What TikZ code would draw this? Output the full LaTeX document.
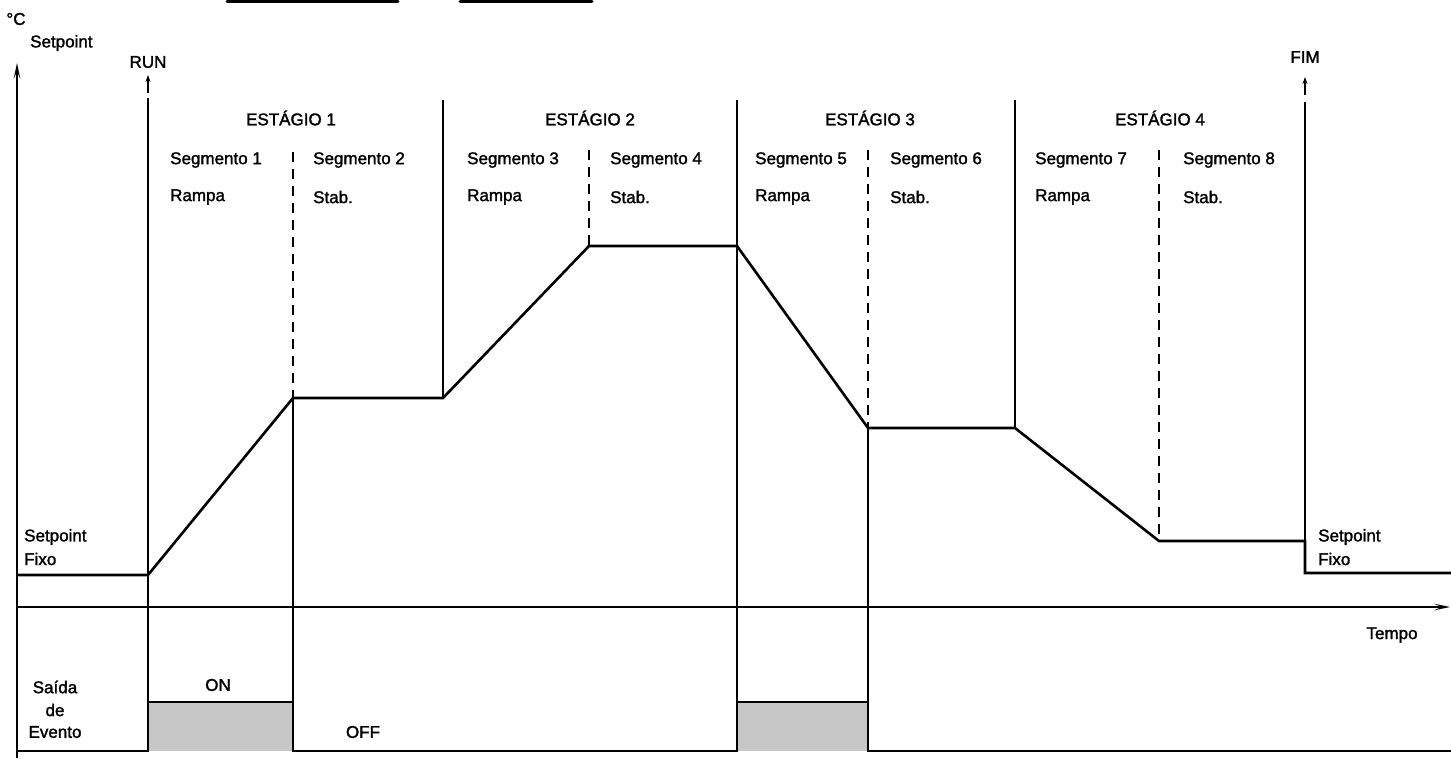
\documentclass[tikz,border=0pt]{standalone}
\usepackage{fontspec}
\setmainfont{Liberation Sans}
\newfontfamily\lblfont{Liberation Sans}[RawFeature={embolden=1.6}]
\usetikzlibrary{arrows.meta}
\begin{document}
\begin{tikzpicture}[x=1pt,y=-1pt,
  txt/.style={font=\lblfont\fontsize{17}{20}\selectfont, inner sep=0pt},
  axisline/.style={line width=2.4pt},
  profline/.style={line width=2.6pt, line join=miter},
  stageline/.style={line width=2pt},
  segline/.style={line width=1.7pt, dash pattern=on 10pt off 7pt},
  evline/.style={line width=2.6pt},
  evfill/.style={fill=black!22},
  marker/.style={line width=1.8pt, -{Stealth[length=7pt,width=5pt]}}
]
\useasboundingbox (0,0) rectangle (1451,758);

% partial rules along the upper edge
\draw[line width=3pt, line cap=round] (227,1.5) -- (398,1.5);
\draw[line width=3pt, line cap=round] (460,1.5) -- (592,1.5);

% setpoint profile corners
\coordinate (p0) at (17,575);
\coordinate (p1) at (148,575);
\coordinate (p2) at (293,398);
\coordinate (p3) at (443,398);
\coordinate (p4) at (589,246);
\coordinate (p5) at (737,246);
\coordinate (p6) at (868,428);
\coordinate (p7) at (1015,428);
\coordinate (p8) at (1159,541);
\coordinate (p9) at (1305,541);
\coordinate (p10) at (1305,573);
\coordinate (p11) at (1451,573);

% event output corners
\coordinate (e0) at (17,751);
\coordinate (e1) at (148,751);
\coordinate (e2) at (148,702);
\coordinate (e3) at (293,702);
\coordinate (e4) at (293,751);
\coordinate (e5) at (737,751);
\coordinate (e6) at (737,702);
\coordinate (e7) at (868,702);
\coordinate (e8) at (868,751);
\coordinate (e9) at (1451,751);

% shaded ON intervals
\fill[evfill] (e2) rectangle (e4);
\fill[evfill] (e6) rectangle (e8);

% axes
\coordinate (ybot) at (17,758);
\coordinate (ytop) at (17,62);
\coordinate (tleft) at (17,607);
\coordinate (tright) at (1451,607);
\draw[axisline, -{Stealth[length=14pt,width=5pt]}] (ybot) -- (ytop);
\draw[axisline, -{Stealth[length=14pt,width=5pt]}] (tleft) -- (tright);

% stage boundaries (solid)
\draw[stageline] (148,98) -- (e2);
\draw[stageline] (443,100) -- (p3);
\draw[stageline] (737,100) -- (e6);
\draw[stageline] (1015,100) -- (p7);
\draw[stageline] (1305,102) -- (p9);

% segment boundaries (dashed above the curve)
\draw[segline] (293,152) -- (p2);
\draw[stageline] (p2) -- (e3);
\draw[segline] (589,150) -- (p4);
\draw[segline] (868,150) -- (p6);
\draw[stageline] (p6) -- (e7);
\draw[segline] (1159,150) -- (p8);

% setpoint profile
\draw[profline] (p0) -- (p1) -- (p2) -- (p3) -- (p4) -- (p5) -- (p6)
  -- (p7) -- (p8) -- (p9) -- (p10) -- (p11);

% event output
\draw[evline, line join=miter] (e0) -- (e1) -- (e2) -- (e3) -- (e4) -- (e5)
  -- (e6) -- (e7) -- (e8) -- (e9);

% RUN / FIM markers
\coordinate (runa) at (148,93);
\coordinate (runb) at (148,75);
\coordinate (fima) at (1305,95);
\coordinate (fimb) at (1305,77);
\draw[marker] (runa) -- (runb);
\draw[marker] (fima) -- (fimb);

% labels
\node[txt] (degc) at (16,19) {°C};
\node[txt, anchor=west] (spt) at (30,43) {Setpoint};
\node[txt] (run) at (148,62) {RUN};
\node[txt] (fim) at (1305,57) {FIM};

\node[txt] (st1) at (291,118) {ESTÁGIO 1};
\node[txt] (st2) at (590,118) {ESTÁGIO 2};
\node[txt] (st3) at (870,118) {ESTÁGIO 3};
\node[txt] (st4) at (1160,118) {ESTÁGIO 4};

\node[txt, anchor=west] (s1) at (170,160) {Segmento 1};
\node[txt, anchor=west] (m1) at (170,197) {Rampa};
\node[txt, anchor=west] (s2) at (313,160) {Segmento 2};
\node[txt, anchor=west] (m2) at (313,197) {Stab.};
\node[txt, anchor=west] (s3) at (467,160) {Segmento 3};
\node[txt, anchor=west] (m3) at (467,197) {Rampa};
\node[txt, anchor=west] (s4) at (610,160) {Segmento 4};
\node[txt, anchor=west] (m4) at (610,197) {Stab.};
\node[txt, anchor=west] (s5) at (755,160) {Segmento 5};
\node[txt, anchor=west] (m5) at (755,197) {Rampa};
\node[txt, anchor=west] (s6) at (890,160) {Segmento 6};
\node[txt, anchor=west] (m6) at (890,197) {Stab.};
\node[txt, anchor=west] (s7) at (1035,160) {Segmento 7};
\node[txt, anchor=west] (m7) at (1035,197) {Rampa};
\node[txt, anchor=west] (s8) at (1183,160) {Segmento 8};
\node[txt, anchor=west] (m8) at (1183,197) {Stab.};

\node[txt, anchor=west] (fixl1) at (24,537) {Setpoint};
\node[txt, anchor=west] (fixl2) at (24,559) {Fixo};
\node[txt, anchor=west] (fixr1) at (1318,537) {Setpoint};
\node[txt, anchor=west] (fixr2) at (1318,559) {Fixo};

\node[txt] (tempo) at (1392,635) {Tempo};

\node[txt] (ev1) at (55,687) {Saída};
\node[txt] (ev2) at (55,710) {de};
\node[txt] (ev3) at (55,732) {Evento};
\node[txt] (on) at (218,685) {ON};
\node[txt] (off) at (363,732) {OFF};
\end{tikzpicture}
\end{document}
